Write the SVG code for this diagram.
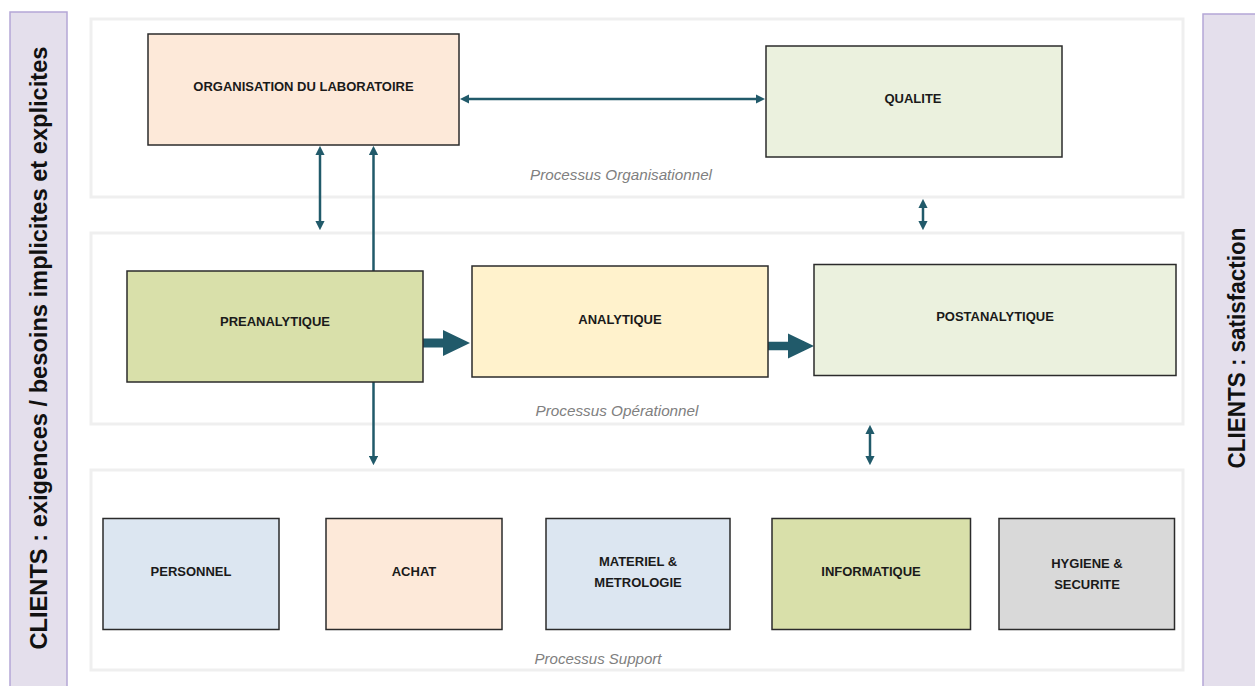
<svg xmlns="http://www.w3.org/2000/svg" width="1255" height="686" viewBox="0 0 1255 686">
  <defs>
    <style>
      .side { fill: #e4dfec; stroke: #b4a7d6; stroke-width: 1.5; }
      .side-label { font-family: "Liberation Sans", Arial, sans-serif; font-weight: bold; font-size: 23px; fill: #111; text-anchor: middle; }
      .panel { fill: #ffffff; stroke: #efefef; stroke-width: 3; }
      .caption { font-family: "Liberation Sans", Arial, sans-serif; font-style: italic; font-size: 14.5px; fill: #808080; text-anchor: middle; }
      .box { stroke: #2b2b2b; stroke-width: 1.5; }
      .label { font-family: "Liberation Sans", Arial, sans-serif; font-weight: bold; font-size: 13px; fill: #1a1a1a; text-anchor: middle; }
      .link { fill: none; stroke: #215a6a; stroke-width: 2.5; }
      .flow { fill: #215a6a; }
    </style>
    <marker id="head" viewBox="0 0 10 10" markerUnits="userSpaceOnUse" markerWidth="9.5" markerHeight="9.5" refX="5.6" refY="5" orient="auto-start-reverse">
      <path d="M0,0 L10,5 L0,10 z" fill="#215a6a"/>
    </marker>
  </defs>

  <!-- side bands: client inputs and client satisfaction -->
  <g id="clients-in">
    <rect class="side" x="10" y="12" width="57" height="690"/>
    <text class="side-label" transform="translate(47,348) rotate(-90)" textLength="603" lengthAdjust="spacingAndGlyphs">CLIENTS : exigences / besoins implicites et explicites</text>
  </g>
  <g id="clients-out">
    <rect class="side" x="1203" y="14" width="70" height="690"/>
    <text class="side-label" transform="translate(1245,348) rotate(-90)" textLength="241" lengthAdjust="spacingAndGlyphs">CLIENTS : satisfaction</text>
  </g>

  <!-- process layers -->
  <g id="panel-organisation">
    <rect class="panel" x="91" y="19" width="1092" height="178"/>
    <text class="caption" x="621" y="180" textLength="182" lengthAdjust="spacingAndGlyphs">Processus Organisationnel</text>
  </g>
  <g id="panel-operation">
    <rect class="panel" x="91" y="233" width="1092" height="191"/>
    <text class="caption" x="617" y="415.5" textLength="163" lengthAdjust="spacingAndGlyphs">Processus Opérationnel</text>
  </g>
  <g id="panel-support">
    <rect class="panel" x="91" y="470" width="1092" height="200"/>
    <text class="caption" x="598" y="664" textLength="127" lengthAdjust="spacingAndGlyphs">Processus Support</text>
  </g>

  <!-- connectors -->
  <g id="connectors">
    <path class="link" d="M464,99 H761" marker-start="url(#head)" marker-end="url(#head)"/>
    <path class="link" d="M320,150 V226" marker-start="url(#head)" marker-end="url(#head)"/>
    <path class="link" d="M373.5,271 V150" marker-end="url(#head)"/>
    <path class="link" d="M373.5,382 V461" marker-end="url(#head)"/>
    <path class="link" d="M923,203 V226" marker-start="url(#head)" marker-end="url(#head)"/>
    <path class="link" d="M870,429 V461" marker-start="url(#head)" marker-end="url(#head)"/>
    <polygon class="flow" points="423,338.5 443,338.5 443,330 470,343 443,356 443,347.5 423,347.5"/>
    <polygon class="flow" points="768,341.8 788,341.8 788,333.5 814,346 788,358.5 788,350.2 768,350.2"/>
  </g>

  <!-- organisational processes -->
  <g id="organisation">
    <rect class="box" x="148" y="34" width="311" height="111" fill="#fde9d9"/>
    <text class="label" x="303.5" y="90.5">ORGANISATION DU LABORATOIRE</text>
  </g>
  <g id="qualite">
    <rect class="box" x="766" y="46" width="296" height="111" fill="#ebf1de"/>
    <text class="label" x="913" y="102.5">QUALITE</text>
  </g>

  <!-- operational processes -->
  <g id="preanalytique">
    <rect class="box" x="127" y="271" width="296" height="111" fill="#d9e0aa"/>
    <text class="label" x="275" y="326">PREANALYTIQUE</text>
  </g>
  <g id="analytique">
    <rect class="box" x="472" y="266" width="296" height="111" fill="#fff2cc"/>
    <text class="label" x="620" y="323.5">ANALYTIQUE</text>
  </g>
  <g id="postanalytique">
    <rect class="box" x="814" y="264.5" width="362" height="111" fill="#ebf1de"/>
    <text class="label" x="995" y="321">POSTANALYTIQUE</text>
  </g>

  <!-- support processes -->
  <g id="personnel">
    <rect class="box" x="103" y="518.5" width="176" height="111" fill="#dce6f1"/>
    <text class="label" x="191" y="576">PERSONNEL</text>
  </g>
  <g id="achat">
    <rect class="box" x="326" y="518.5" width="176" height="111" fill="#fde9d9"/>
    <text class="label" x="414" y="576">ACHAT</text>
  </g>
  <g id="materiel">
    <rect class="box" x="546" y="518.5" width="184" height="111" fill="#dce6f1"/>
    <text class="label" x="638" y="565.5">MATERIEL &amp;</text>
    <text class="label" x="638" y="587">METROLOGIE</text>
  </g>
  <g id="informatique">
    <rect class="box" x="772" y="518.5" width="198.5" height="111" fill="#d9e0aa"/>
    <text class="label" x="871" y="576">INFORMATIQUE</text>
  </g>
  <g id="hygiene">
    <rect class="box" x="999" y="518.5" width="175.5" height="111" fill="#d9d9d9"/>
    <text class="label" x="1087" y="567.5">HYGIENE &amp;</text>
    <text class="label" x="1087" y="589">SECURITE</text>
  </g>
</svg>
